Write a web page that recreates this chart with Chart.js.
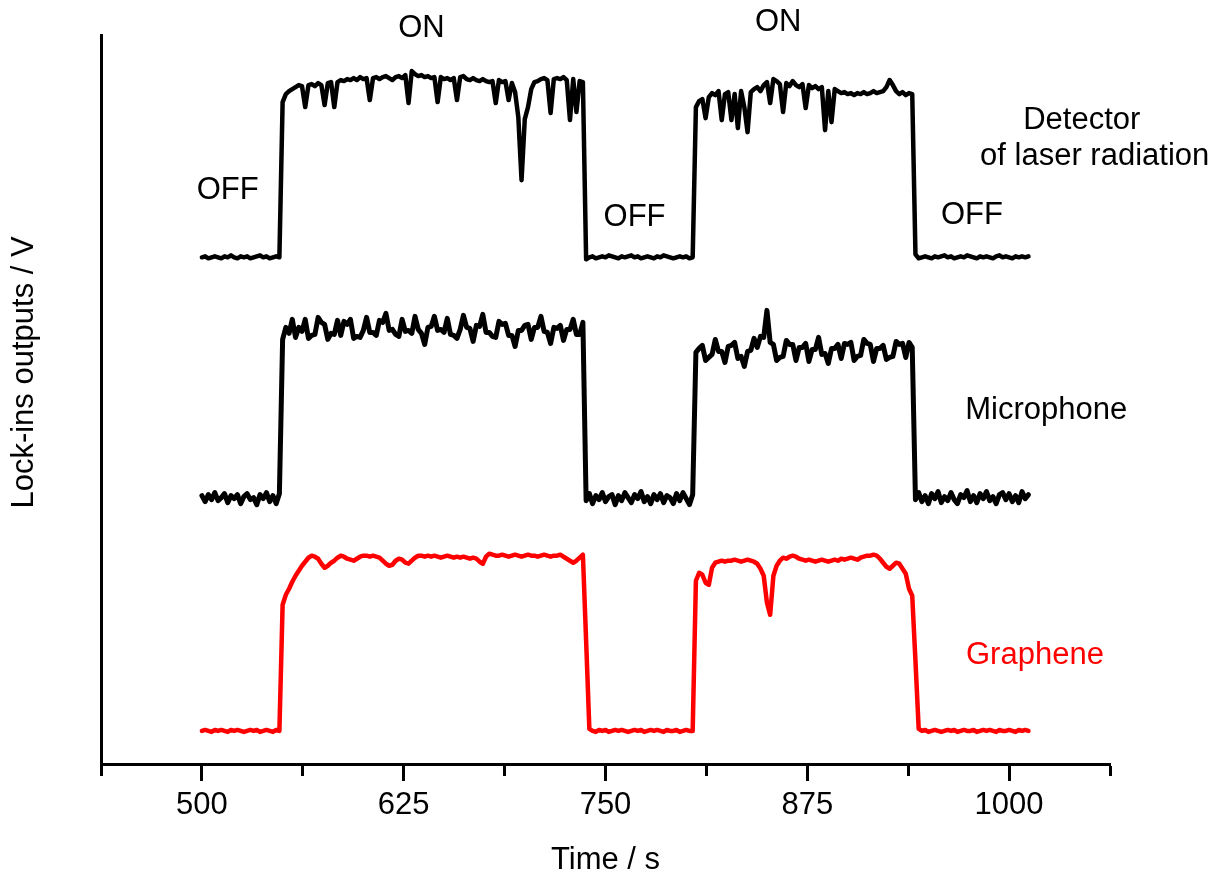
<!DOCTYPE html>
<html>
<head>
<meta charset="utf-8">
<title>Lock-in outputs</title>
<script src="https://cdn.jsdelivr.net/npm/chart.js@4.4.1/dist/chart.umd.min.js"></script>
<style>
  html, body { margin: 0; padding: 0; background: #fff; overflow: hidden; }
  canvas { display: block; }
</style>
</head>
<body>
<canvas id="chart" width="1216" height="869"></canvas>
<script>
// Lock-in samples, one every 2 s from 500 s on.
// Values are mV above the baseline of each trace (10 samples = 20 s per row).
const startTime = 500;
const sampleStep = 2;

const detector = [
  0, 1, -1, 0, 1, 0, -1, 1, 0, 2,
  0, -1, 1, 0, 1, -1, 0, 1, 2, 0,
  1, -1, 0, 1, 0, 155, 163, 166, 168, 170,
  172, 171, 150, 172, 173, 171, 174, 172, 152, 174,
  175, 150, 175, 177, 176, 178, 177, 179, 177, 180,
  178, 179, 157, 179, 180, 178, 180, 181, 179, 177,
  180, 181, 179, 182, 154, 186, 183, 181, 182, 180,
  181, 179, 180, 155, 180, 178, 179, 177, 179, 157,
  180, 181, 178, 177, 179, 177, 176, 178, 176, 175,
  176, 154, 177, 175, 176, 157, 174, 165, 140, 77,
  138, 150, 168, 175, 176, 178, 179, 177, 144, 178,
  179, 178, 180, 177, 137, 178, 145, 176, 175, -2,
  0, 1, -1, 0, 1, 0, 2, 1, 0, -1,
  1, 0, 1, 2, 0, 1, -1, 0, 1, 0,
  -1, 1, 0, 2, 1, 0, -1, 0, 1, 0,
  1, -1, 0, 150, 156, 158, 139, 160, 164, 162,
  166, 137, 163, 165, 137, 163, 129, 166, 150, 125,
  165, 168, 170, 166, 172, 175, 154, 178, 176, 173,
  145, 174, 171, 176, 172, 170, 173, 149, 172, 169,
  171, 168, 170, 127, 166, 135, 168, 166, 164, 165,
  163, 164, 162, 164, 163, 165, 163, 164, 166, 164,
  165, 166, 170, 177, 172, 166, 163, 165, 162, 164,
  163, 3, -1, 0, 1, 0, -1, 1, 0, 1,
  2, 0, 1, -1, 0, 1, 0, 2, 1, 0,
  -1, 1, 0, 1, 0, -1, 1, 2, 0, 1,
  0, -1, 1, 0, 1, 0, 1
];

const microphone = [
  2, -4, 3, -2, 5, -3, 0, 4, -5, 2,
  -1, 3, -6, 1, 4, -2, 0, -7, 3, -1,
  5, -4, 2, -6, 4, 158, 170, 164, 178, 160,
  170, 166, 178, 159, 162, 163, 180, 175, 173, 158,
  164, 163, 177, 162, 176, 173, 178, 159, 161, 160,
  167, 180, 165, 165, 162, 177, 175, 184, 167, 168,
  163, 161, 178, 166, 167, 164, 181, 168, 164, 153,
  170, 171, 181, 167, 168, 165, 179, 163, 162, 159,
  168, 182, 170, 169, 156, 172, 171, 183, 165, 165,
  161, 160, 176, 173, 174, 162, 162, 151, 167, 167,
  172, 173, 158, 170, 170, 181, 166, 165, 154, 170,
  169, 172, 157, 168, 168, 178, 163, 163, 175, -3,
  4, -6, 2, -2, 5, -4, 1, 3, -7, 2,
  -3, 5, 0, -5, 3, -1, 6, -4, 1, -6,
  3, -2, 4, -5, 2, 0, -6, 4, -3, 5,
  -1, -7, 3, 145, 149, 152, 137, 140, 143, 158,
  146, 146, 135, 151, 152, 155, 139, 141, 131, 146,
  147, 159, 150, 161, 160, 187, 155, 153, 137, 140,
  141, 157, 153, 153, 137, 150, 150, 154, 136, 148,
  148, 160, 143, 144, 134, 149, 149, 153, 139, 154,
  153, 155, 137, 141, 142, 158, 154, 153, 136, 149,
  149, 152, 138, 140, 141, 156, 153, 154, 140, 155,
  150, -2, 5, -4, 2, -6, 4, -1, 6, -5,
  1, -3, 5, -2, -6, 3, 0, 7, -4, 2,
  -5, 4, -1, 6, -3, 1, -6, 3, 5, -2,
  4, -4, 2, -5, 6, -1, 3
];

const graphene = [
  0, 1, 0, -1, 1, 0, 1, 0, -1, 1,
  0, 1, 0, -1, 0, 1, 0, 1, -1, 0,
  1, 0, -1, 1, 0, 126, 136, 142, 149, 155,
  160, 165, 169, 173, 175, 174, 172, 167, 163, 165,
  168, 170, 173, 175, 174, 172, 171, 170, 172, 174,
  175, 175, 174, 175, 174, 173, 170, 167, 165, 166,
  170, 172, 171, 168, 167, 170, 173, 175, 175, 174,
  175, 174, 175, 174, 173, 174, 175, 174, 173, 174,
  173, 174, 173, 172, 173, 172, 169, 167, 174, 177,
  176, 175, 175, 176, 175, 174, 175, 176, 175, 174,
  175, 176, 175, 175, 174, 175, 176, 175, 174, 175,
  175, 176, 174, 172, 170, 168, 170, 173, 176, 90,
  2, 0, -1, 1, 0, 1, -1, 0, 1, 0,
  1, 0, -1, 0, 1, 0, 1, -1, 0, 1,
  0, 1, 0, -1, 1, 0, 0, 1, -1, 0,
  1, 0, 0, 150, 158, 156, 148, 146, 163, 168,
  169, 170, 169, 170, 170, 171, 170, 169, 170, 171,
  170, 169, 167, 162, 155, 128, 116, 155, 165, 170,
  173, 172, 174, 175, 174, 172, 171, 170, 171, 170,
  169, 170, 171, 170, 169, 170, 171, 170, 172, 171,
  172, 173, 172, 171, 173, 174, 175, 175, 176, 175,
  172, 168, 164, 162, 165, 168, 167, 162, 157, 142,
  135, 70, 2, 0, 1, -1, 0, 1, 0, -1,
  0, 1, 0, 1, -1, 0, 1, 0, 0, 1,
  -1, 0, 1, 0, 1, 0, -1, 1, 0, 0,
  1, 0, -1, 1, 0, 1, 0
];

// baselines (mV) that stack the three traces one above the other
const detectorOffset = 506;
const microphoneOffset = 266;
const grapheneOffset = 33;

// text placed in data coordinates: time (s), output (mV)
const notes = [
  { text: 'ON', t: 636, v: 735 },
  { text: 'ON', t: 857, v: 741 },
  { text: 'OFF', t: 516, v: 573 },
  { text: 'OFF', t: 768, v: 546 },
  { text: 'OFF', t: 977, v: 548 },
  { text: 'Detector', t: 1045, v: 643 },
  { text: 'of laser radiation', t: 1053, v: 607 },
  { text: 'Microphone', t: 1023, v: 353 },
  { text: 'Graphene', t: 1016, v: 108, color: '#ff0000' }
];

const FONT = '"Liberation Sans", Arial, sans-serif';
Chart.defaults.font.family = FONT;
Chart.defaults.color = '#000';

function toPoints(values, offset) {
  return values.map((v, i) => ({ x: startTime + i * sampleStep, y: (v + offset) / 1000 }));
}

const textLabels = {
  id: 'textLabels',
  afterDatasetsDraw(chart) {
    const { ctx, chartArea, scales: { x, y } } = chart;
    ctx.save();
    ctx.font = '31px ' + FONT;
    ctx.textAlign = 'center';
    ctx.textBaseline = 'middle';
    notes.forEach(n => {
      ctx.fillStyle = n.color || '#000';
      ctx.fillText(n.text, x.getPixelForValue(n.t), y.getPixelForValue(n.v / 1000));
    });
    // rotated y axis title
    ctx.fillStyle = '#000';
    ctx.translate(chartArea.left - 76.5, y.getPixelForValue(0.391));
    ctx.rotate(-Math.PI / 2);
    ctx.fillText('Lock-ins outputs / V', 0, 0);
    ctx.restore();
  }
};

new Chart(document.getElementById('chart'), {
  type: 'line',
  data: {
    datasets: [
      { label: 'Detector of laser radiation', data: toPoints(detector, detectorOffset), borderColor: '#000', borderWidth: 4.5 },
      { label: 'Microphone', data: toPoints(microphone, microphoneOffset), borderColor: '#000', borderWidth: 5 },
      { label: 'Graphene', data: toPoints(graphene, grapheneOffset), borderColor: '#ff0000', borderWidth: 4.5 }
    ]
  },
  options: {
    responsive: false,
    animation: false,
    elements: {
      line: { tension: 0, borderJoinStyle: 'round', borderCapStyle: 'round' },
      point: { radius: 0 }
    },
    layout: { padding: { left: 101, top: 35, right: 106, bottom: 0 } },
    plugins: { legend: { display: false }, tooltip: { enabled: false } },
    scales: {
      x: {
        type: 'linear',
        position: 'bottom',
        min: 437.5,
        max: 1062.5,
        border: { display: true, width: 3, color: '#000' },
        grid: {
          display: true,
          drawOnChartArea: false,
          drawTicks: true,
          tickLength: 17,
          tickWidth: 3,
          tickColor: '#000',
          // minor ticks drawn as a short dash of the full tick
          tickBorderDash: ctx => (ctx.tick && ctx.tick.value % 125 === 0) ? [] : [10, 40]
        },
        ticks: {
          stepSize: 62.5,
          autoSkip: false,
          maxRotation: 0,
          minRotation: 0,
          padding: 9,
          color: '#000',
          font: { size: 31, lineHeight: 1 },
          callback: v => (v % 125 === 0 ? String(v) : '')
        },
        title: {
          display: true,
          text: 'Time / s',
          color: '#000',
          font: { size: 31, lineHeight: 1 },
          padding: { top: 15, bottom: -7 }
        }
      },
      y: {
        type: 'linear',
        position: 'left',
        min: 0,
        max: 0.728,
        border: { display: true, width: 3, color: '#000' },
        grid: { display: true, drawOnChartArea: false, drawTicks: false },
        ticks: { display: false },
        title: { display: false }
      }
    }
  },
  plugins: [textLabels]
});
</script>
</body>
</html>
